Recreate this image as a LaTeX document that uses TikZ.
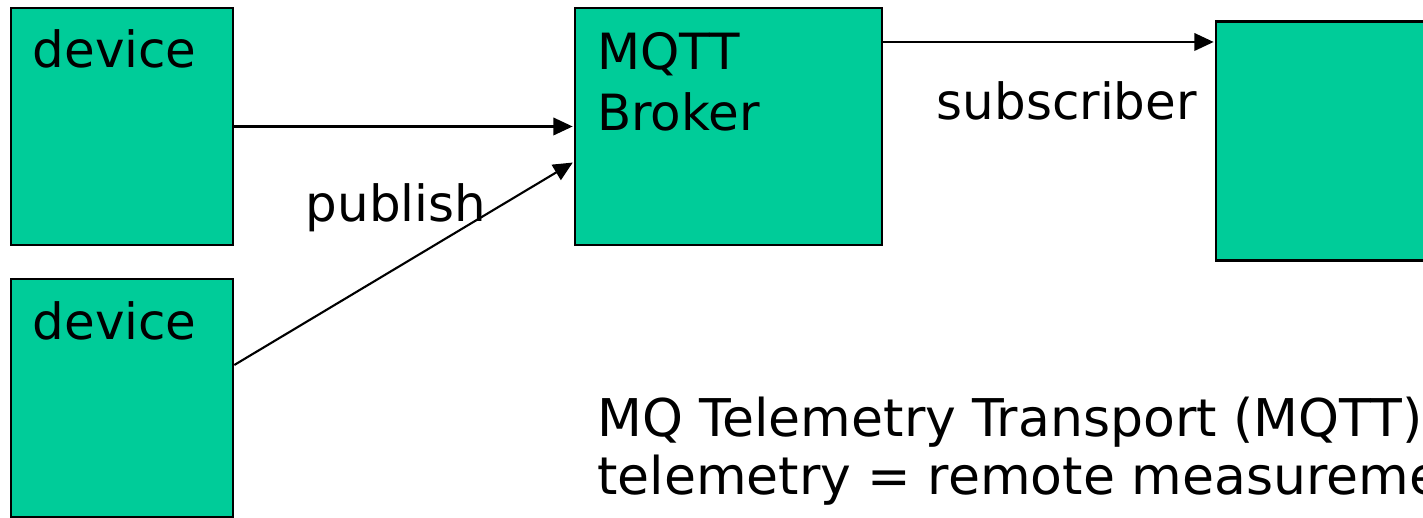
\documentclass[tikz,border=0pt]{standalone}
\usepackage{fontspec}
\setmainfont{DejaVu Sans}
\usepackage{tikz}
\usetikzlibrary{arrows.meta}
\definecolor{boxgreen}{RGB}{0,204,153}
\tikzset{
  box/.style={draw=black, line width=0.75pt, fill=boxgreen, inner sep=0pt},
  txt/.style={inner sep=0pt, font=\fontsize{14.2pt}{17.4pt}\selectfont},
  link/.style={line width=0.6pt, -{Triangle[length=5.5pt,width=5pt]}, shorten >=0.3pt}
}

\begin{document}
\begin{tikzpicture}
    \useasboundingbox (0,0) rectangle (14.23,-5.18);
    \clip (0,0) rectangle (14.23,-5.18);

	\node [box, minimum width=2.22cm, minimum height=2.37cm] (0) at (1.22, -1.265) {};
	\node [box, minimum width=2.22cm, minimum height=2.38cm] (1) at (1.22, -3.98) {};
	\node [box, minimum width=3.07cm, minimum height=2.37cm] (2) at (7.285, -1.265) {};
	\node [box, minimum width=3.07cm, minimum height=2.385cm] (3) at (13.695, -1.41) {};
	\node [txt, anchor=base west] (4) at (0.32, -0.68) {device};
	\node [txt, anchor=base west] (5) at (0.32, -3.40) {device};
	\node [txt, anchor=north west, align=left] (6) at (5.965, -0.32) {MQTT\\Broker};
	\node [txt, anchor=base west] (7) at (3.05, -2.22) {publish};
	\node [txt, anchor=base west] (8) at (9.36, -1.20) {subscriber};
	\node [txt, anchor=north west, align=left, font=\fontsize{14.8pt}{16.5pt}\selectfont] (9) at (5.965, -3.96)
	  {MQ Telemetry Transport (MQTT)\\telemetry = remote measurement};
	% edges
	\draw [link] (0.east) to (2.west);
	\draw [link] ([yshift=0.33cm]1.east) to ([yshift=-0.355cm]2.west);
	\draw [link] ([yshift=0.845cm]2.east) to ([yshift=0.845cm]2.east -| 3.west);
\end{tikzpicture}
\end{document}
